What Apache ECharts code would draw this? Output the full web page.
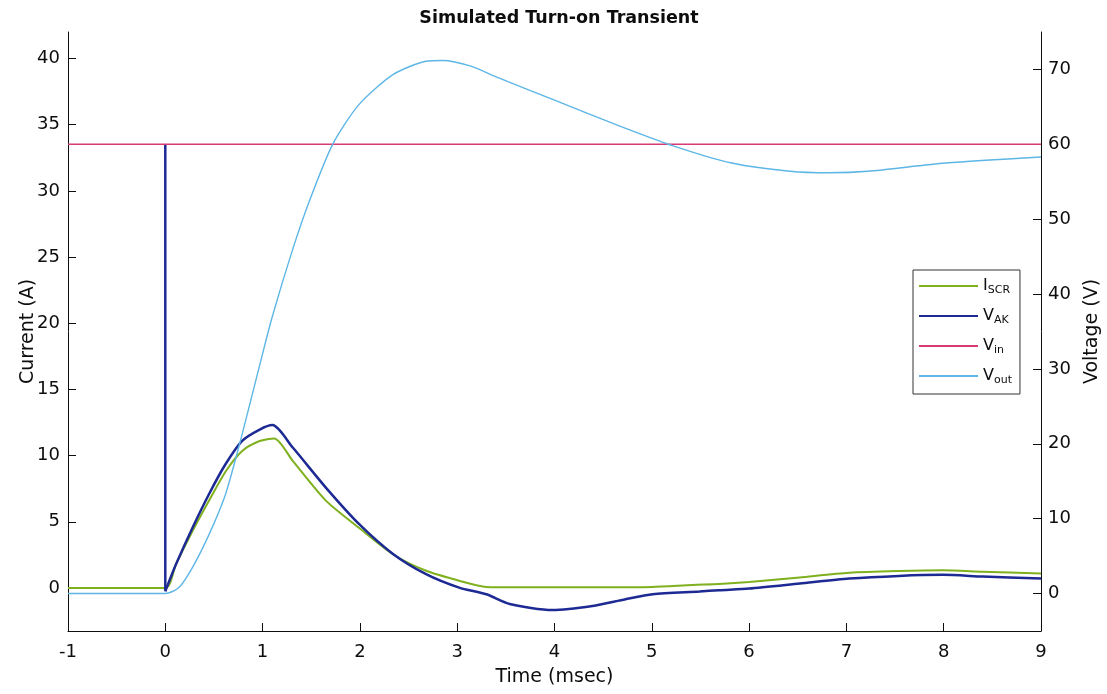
<!DOCTYPE html>
<html>
<head>
<meta charset="utf-8">
<title>Simulated Turn-on Transient</title>
<script src="https://cdn.jsdelivr.net/npm/echarts@6/dist/echarts.min.js"></script>
<style>
  html, body { margin: 0; padding: 0; background: #ffffff; }
  #chart { width: 1107px; height: 694px; }
</style>
</head>
<body>
<div id="chart"></div>
<script>
// Tick values for the three axes
const timeTicks = [-1, 0, 1, 2, 3, 4, 5, 6, 7, 8, 9];
const currentTicks = [0, 5, 10, 15, 20, 25, 30, 35, 40];
const voltageTicks = [0, 10, 20, 30, 40, 50, 60, 70];

// SCR current (A) vs time (ms)
const iScr = [
  [-1, 0], [0, 0], [0.11, 1.8], [0.28, 4.3], [0.45, 6.6], [0.62, 8.8],
  [0.79, 10.35], [0.97, 11.1], [1.12, 11.3], [1.31, 9.6], [1.65, 6.6],
  [1.99, 4.55], [2.34, 2.55], [2.68, 1.3], [3.02, 0.55], [3.3, 0.08],
  [3.6, 0.05], [4.5, 0.05], [5.0, 0.08], [5.42, 0.23], [5.69, 0.3],
  [6.0, 0.45], [6.52, 0.8], [7.03, 1.15], [7.54, 1.28], [7.99, 1.33],
  [8.4, 1.23], [9, 1.1]
];

// Anode-cathode voltage (V): the drop when the gate fires, then conduction
const vAkStep = [[0, 60], [0, 0.3]];
const vAk = [
  [0, 0.3], [0.11, 3.9], [0.28, 8.8], [0.45, 13.3], [0.62, 17.3],
  [0.79, 20.4], [0.97, 21.9], [1.1, 22.5], [1.31, 19.5], [1.65, 14.15],
  [1.99, 9.3], [2.34, 5.3], [2.68, 2.6], [3.02, 0.8], [3.3, -0.1],
  [3.54, -1.4], [3.98, -2.2], [4.39, -1.65], [4.73, -0.75], [5.01, -0.1],
  [5.49, 0.27], [5.69, 0.45], [6.0, 0.67], [6.52, 1.34], [7.03, 2.0],
  [7.54, 2.36], [7.99, 2.5], [8.4, 2.27], [9, 2.0]
];

// Input voltage (V)
const vIn = [[-1, 60], [9, 60]];

// Output voltage (V)
const vOut = [
  [-1, 0], [0, 0], [0.14, 0.8], [0.28, 3.5], [0.45, 7.9], [0.62, 13.3],
  [0.79, 21.3], [0.97, 30.5], [1.1, 37], [1.31, 46], [1.48, 52.4],
  [1.72, 60], [1.99, 65.3], [2.34, 69.3], [2.68, 71.1], [2.85, 71.2],
  [3.14, 70.45], [3.42, 68.9], [4.02, 65.8], [4.62, 62.7], [5.22, 59.8],
  [5.82, 57.5], [6.42, 56.4], [6.82, 56.2], [7.22, 56.4], [8.02, 57.5],
  [9, 58.3]
];

const FONT = '"DejaVu Sans", Verdana, sans-serif';
const INK = '#0d0d0d';
const COLORS = {
  iScr: '#7fb01e',
  vAk: '#1d2a94',
  vIn: '#d83a74',
  vOut: '#5db6e6'
};

const chart = echarts.init(document.getElementById('chart'), null, { renderer: 'canvas' });

const lineAxis = { show: true, onZero: false, lineStyle: { color: INK, width: 1 } };
const nameStyle = { color: INK, fontSize: 19, fontFamily: FONT };

function tickStyle(values) {
  const t = { show: true, inside: true, length: 8, lineStyle: { color: INK, width: 1 } };
  if (values) t.customValues = values;
  return t;
}
function labelStyle(margin, values) {
  const l = { color: INK, fontSize: 18, fontFamily: FONT, margin: margin };
  if (values) l.customValues = values;
  return l;
}

const smoothLine = (name, axis, data, color, width) => ({
  name: name, type: 'line', yAxisIndex: axis, data: data,
  showSymbol: false, symbol: 'none', smooth: 0.25,
  lineStyle: { color: color, width: width }, itemStyle: { color: color }
});

const option = {
  backgroundColor: '#ffffff',
  animation: false,
  title: {
    text: 'Simulated Turn-on Transient',
    left: 554, top: 4, textAlign: 'center',
    textStyle: { fontSize: 17.5, fontWeight: 'bold', color: INK, fontFamily: FONT }
  },
  grid: { left: 68, right: 66, top: 32, bottom: 63, containLabel: false, outerBoundsMode: 'none' },
  legend: {
    orient: 'vertical',
    left: 913, top: 270,
    padding: [8, 8, 8, 6],
    itemGap: 12,
    itemWidth: 59, itemHeight: 2,
    icon: 'rect',
    backgroundColor: '#ffffff',
    borderColor: '#333333', borderWidth: 1,
    data: ['I_SCR', 'V_AK', 'V_in', 'V_out'],
    formatter: function (name) {
      const p = name.split('_');
      return '{m|' + p[0] + '}{s|' + p[1] + '}';
    },
    textStyle: {
      fontFamily: FONT, color: INK,
      rich: {
        m: { fontSize: 16, lineHeight: 20, fontFamily: FONT, color: INK },
        s: { fontSize: 11, lineHeight: 11, verticalAlign: 'bottom', fontFamily: FONT, color: INK }
      }
    }
  },
  xAxis: {
    type: 'value', min: -1, max: 9, interval: 1,
    name: 'Time (msec)', nameLocation: 'middle', nameGap: 37, nameMoveOverlap: false,
    nameTextStyle: nameStyle,
    axisLine: lineAxis, axisTick: tickStyle(timeTicks), splitLine: { show: false },
    axisLabel: labelStyle(12)
  },
  yAxis: [
    {
      type: 'value', position: 'left', min: -3.25, max: 42,
      name: 'Current (A)', nameLocation: 'middle', nameGap: 30, nameMoveOverlap: false,
      nameTextStyle: nameStyle,
      axisLine: lineAxis, axisTick: tickStyle(currentTicks), splitLine: { show: false },
      axisLabel: labelStyle(8, currentTicks)
    },
    {
      type: 'value', position: 'right', min: -5, max: 75,
      name: 'Voltage (V)', nameLocation: 'middle', nameGap: 42, nameRotate: 90, nameMoveOverlap: false,
      nameTextStyle: nameStyle,
      axisLine: lineAxis, axisTick: tickStyle(voltageTicks), splitLine: { show: false },
      axisLabel: labelStyle(7, voltageTicks)
    }
  ],
  series: [
    smoothLine('I_SCR', 0, iScr, COLORS.iScr, 2),
    {
      name: 'V_AK', type: 'line', yAxisIndex: 1, data: vAkStep,
      showSymbol: false, symbol: 'none',
      lineStyle: { color: COLORS.vAk, width: 2.5 }, itemStyle: { color: COLORS.vAk }
    },
    smoothLine('V_AK', 1, vAk, COLORS.vAk, 2.5),
    {
      name: 'V_in', type: 'line', yAxisIndex: 1, data: vIn,
      showSymbol: false, symbol: 'none',
      lineStyle: { color: COLORS.vIn, width: 1.5 }, itemStyle: { color: COLORS.vIn }
    },
    smoothLine('V_out', 1, vOut, COLORS.vOut, 1.4)
  ]
};

chart.setOption(option);
</script>
</body>
</html>
